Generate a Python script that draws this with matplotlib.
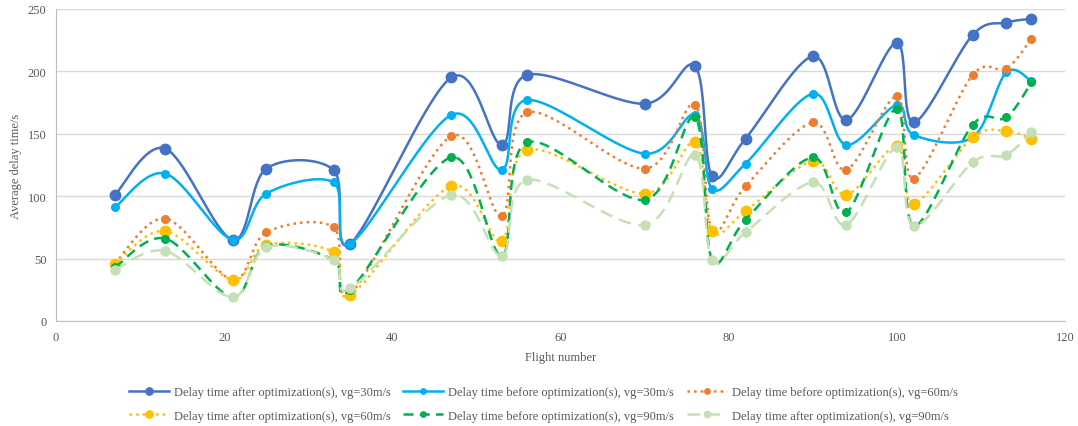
import matplotlib.pyplot as plt
import numpy as np

plt.rcParams['font.family'] = ['Liberation Serif', 'DejaVu Serif']

flights = [7, 13, 21, 25, 33, 35, 47, 53, 56, 70, 76, 78, 82, 90, 94, 100, 102, 109, 113, 116]

after_30 = [101, 138, 65, 122, 121, 62, 195, 141, 197, 174, 204, 116, 146, 212, 161, 223, 159, 229, 239, 242]
before_30 = [91, 118, 65, 102, 111, 62, 165, 121, 177, 134, 165, 106, 126, 182, 141, 173, 149, 147, 199, 192]
before_60 = [46, 82, 33, 71, 75, 22, 148, 84, 167, 122, 173, 73, 108, 159, 121, 180, 114, 197, 202, 226]
after_60 = [46, 72, 33, 61, 55, 21, 108, 64, 137, 102, 143, 72, 88, 128, 101, 140, 94, 147, 152, 146]
before_90 = [43, 66, 19, 60, 49, 25, 131, 52, 143, 97, 163, 49, 81, 131, 87, 170, 76, 157, 163, 191]
after_90 = [41, 56, 19, 59, 49, 26, 101, 52, 113, 77, 133, 49, 71, 111, 77, 139, 76, 127, 133, 151]

labels = [
    'Delay time after optimization(s), vg=30m/s',
    'Delay time before optimization(s), vg=30m/s',
    'Delay time before optimization(s), vg=60m/s',
    'Delay time after optimization(s), vg=60m/s',
    'Delay time before optimization(s), vg=90m/s',
    'Delay time after optimization(s), vg=90m/s',
]
colors = ['#4472C4', '#00B0F0', '#ED7D31', '#FFC000', '#00B050', '#C5E0B4']
styles = ['-', '-', ':', ':', (0, (4, 2.5)), (0, (5, 3))]
msizes = [7.5, 5.5, 5.5, 7.5, 5.5, 6.5]

NSEG = 40


def smooth(x, y):
    # excel style smoothed line: bezier segments, control points from neighbours
    p = np.column_stack([x, y]).astype(float)
    n = len(p)
    out = []
    t = np.linspace(0, 1, NSEG, endpoint=False)[:, None]
    for i in range(n - 1):
        p0 = p[max(i - 1, 0)]
        p1 = p[i]
        p2 = p[i + 1]
        p3 = p[min(i + 2, n - 1)]
        c1 = p1 + (p2 - p0) / 6
        c2 = p2 - (p3 - p1) / 6
        seg = ((1 - t) ** 3) * p1 + 3 * ((1 - t) ** 2) * t * c1 + 3 * (1 - t) * t ** 2 * c2 + t ** 3 * p2
        out.append(seg)
    out.append(p[-1:])
    pts = np.vstack(out)
    return pts[:, 0], pts[:, 1]


fig, ax = plt.subplots(figsize=(10.78, 4.27), dpi=100)
fig.subplots_adjust(left=0.052, right=0.988, bottom=0.246, top=0.977)

series = [after_30, before_30, before_60, after_60, before_90, after_90]
lines = []
for vals, lab, c, ls, ms in zip(series, labels, colors, styles, msizes):
    xs, ys = smooth(flights, vals)
    ln, = ax.plot(xs, ys, color=c, linestyle=ls, linewidth=1.8, marker='o', markersize=ms,
                  markevery=list(range(0, len(xs), NSEG)), label=lab)
    lines.append(ln)

ax.set_xlim(0, 120)
ax.set_ylim(0, 250)
ax.set_xticks(range(0, 121, 20))
ax.set_yticks(range(0, 251, 50))
ax.grid(axis='y', color='#D9D9D9', linewidth=1)
ax.set_axisbelow(True)
for s in ['top', 'right']:
    ax.spines[s].set_visible(False)
for s in ['left', 'bottom']:
    ax.spines[s].set_color('#BFBFBF')
ax.tick_params(length=0, labelsize=9, labelcolor='#595959', pad=7)
ax.set_xlabel('Flight number', fontsize=9, color='#595959', labelpad=6)
ax.set_ylabel('Average delay time/s', fontsize=9, color='#595959', labelpad=4)

# row-wise order like the excel legend
order = [0, 3, 1, 4, 2, 5]
fig.legend([lines[i] for i in order], [labels[i] for i in order],
           loc='center', bbox_to_anchor=(0.504, 0.0515), ncol=3, frameon=False,
           fontsize=9, handlelength=3.2, columnspacing=1.0, handletextpad=0.4,
           labelspacing=0.9, markerscale=0.7, labelcolor='#595959')

fig.savefig('out.png')
